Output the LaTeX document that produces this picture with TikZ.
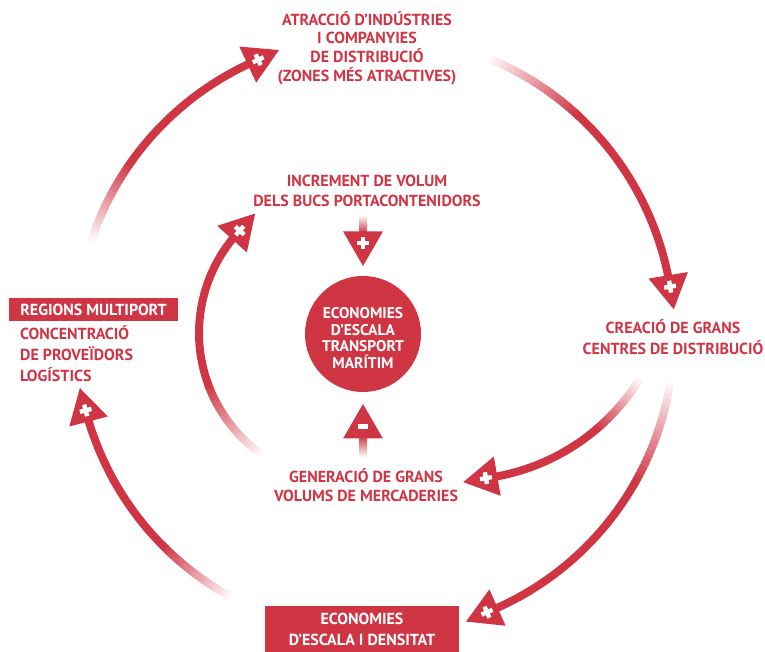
\documentclass[tikz,border=0pt]{standalone}
\usepackage{fontspec}
\setmainfont{PT Sans}
\usetikzlibrary{calc}
\definecolor{vermell}{RGB}{208,53,68}

% arc round #1, radius #2, from #3 to #4 degrees; the first third fades in from white
\newcommand{\fadearc}[4]{%
  \foreach \i in {0,...,23} {
    \pgfmathsetmacro{\aa}{#3+(#4-#3)*0.35*\i/24}
    \pgfmathsetmacro{\bb}{#3+(#4-#3)*0.35*(\i+1.6)/24}
    \pgfmathsetmacro{\pp}{100*(\i+0.5)/24}
    \draw[vermell!\pp!white, line width=8] ($(#1)+(\aa:#2)$) arc[start angle=\aa, end angle=\bb, radius=#2];
  }
  \pgfmathsetmacro{\cc}{#3+(#4-#3)*0.35}
  \draw[vermell, line width=8] ($(#1)+(\cc:#2)$) arc[start angle=\cc, end angle=#4, radius=#2];
}
% triangle head at #1 pointing to #2 degrees, #3=1 plus, #3=0 minus
\newcommand{\redhead}[3]{%
  \begin{scope}[shift={(#1)}, rotate=#2]
    \fill[vermell] (0:23) -- (120:23) -- (240:23) -- cycle;
    \ifnum#3=1
      \fill[white] (-6,-2.2) rectangle (6,2.2);
      \fill[white] (-2.2,-6) rectangle (2.2,6);
    \else
      \fill[white] (-2.5,-5) rectangle (2.5,5);
    \fi
  \end{scope}}

\begin{document}
\begin{tikzpicture}[x=1pt,y=1pt,
  txt/.style={text=vermell, font=\bfseries\fontsize{16}{19}\selectfont, align=center},
  box/.style={fill=vermell, text=white, font=\bfseries\fontsize{16}{21}\selectfont}]
\useasboundingbox (0,0) rectangle (765,652);

\coordinate (oc) at (375,317);
\coordinate (ic) at (348,319);
\coordinate (rc) at (458,386);

% centre
\node[circle, fill=vermell, minimum size=116pt] (eco) at (363,318) {};
\node[text=white, align=center, font=\bfseries\fontsize{15.5}{16.7}\selectfont] (ecotxt) at ($(eco)+(0,-4)$)
  {ECONOMIES\\D’ESCALA\\TRANSPORT\\MARÍTIM};

% labels
\node[txt, font=\bfseries\fontsize{16}{18.7}\selectfont] (atr) at (367,604)
  {ATRACCIÓ D’INDÚSTRIES\\I COMPANYIES\\DE DISTRIBUCIÓ\\(ZONES MÉS ATRACTIVES)};
\node[txt, font=\bfseries\fontsize{16}{20}\selectfont] (inc) at (367,461)
  {INCREMENT DE VOLUM\\DELS BUCS PORTACONTENIDORS};
\node[txt] (gen) at (366,166.5) {GENERACIÓ DE GRANS\\VOLUMS DE MERCADERIES};
\node[txt, font=\bfseries\fontsize{16}{21}\selectfont] (crea) at (673,314.5)
  {CREACIÓ DE GRANS\\CENTRES DE DISTRIBUCIÓ};
\node[box, minimum width=169pt, minimum height=23pt, inner sep=0pt] (regions) at (93.5,342.5)
  {REGIONS MULTIPORT};
\node[txt, font=\bfseries\fontsize{16}{21}\selectfont, align=left, anchor=west, inner xsep=0pt] (conc) at (20,298)
  {CONCENTRACIÓ\\DE PROVEÏDORS\\LOGÍSTICS};
\node[box, minimum width=194pt, minimum height=46pt, align=center] (dens) at (362,23)
  {ECONOMIES\\D’ESCALA I DENSITAT};

% outer loop
\fadearc{oc}{299}{162}{113}
\redhead{$(oc)+(113:299)$}{25}{1}
\fadearc{oc}{299}{68}{9.3}
\redhead{$(oc)+(9.3:299)$}{-80.7}{1}
\fadearc{oc}{299}{-8.7}{-68}
\redhead{$(oc)+(-68:299)$}{-156}{1}
\fadearc{oc}{299}{241.3}{194.6}
\redhead{$(oc)+(194.6:299)$}{104.6}{1}

% inner arrows
\fadearc{ic}{149}{235}{136.6}
\redhead{$(ic)+(136.6:149)$}{48}{1}
\fadearc{rc}{214}{-31.6}{-82.5}
\redhead{$(rc)+(-82.5:214)$}{-170}{1}

% into and out of the centre
\shade[top color=white, bottom color=vermell] (359,437) rectangle (367,419);
\redhead{363,409}{-90}{1}
\shade[top color=vermell, bottom color=white] (359,216) rectangle (367,195);
\redhead{363,225}{90}{0}
\end{tikzpicture}
\end{document}
